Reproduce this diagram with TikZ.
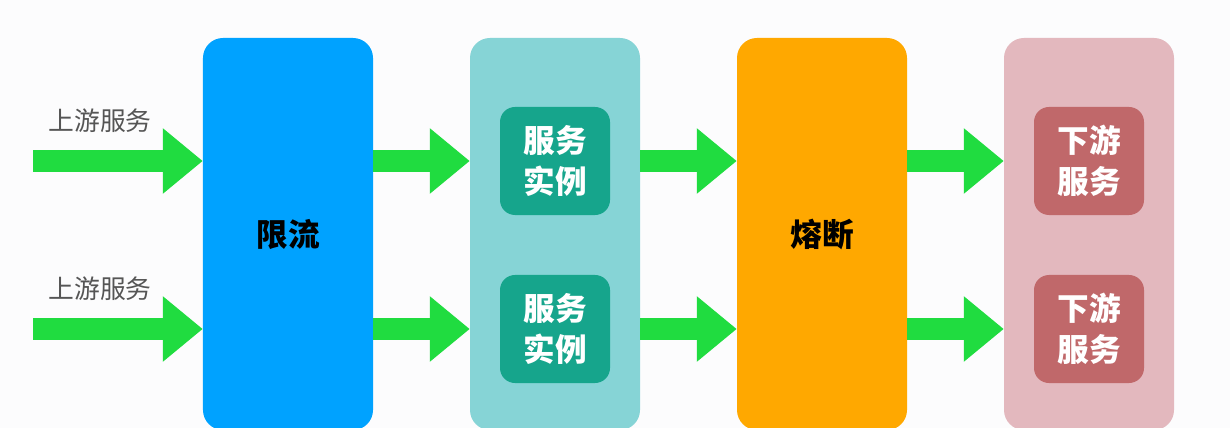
\documentclass[tikz,border=0pt]{standalone}
\usepackage{fontspec}
\setmainfont{Noto Sans CJK SC}
\usetikzlibrary{arrows.meta}
\definecolor{flowgreen}{RGB}{32,220,64}
\definecolor{limitblue}{RGB}{0,162,255}
\definecolor{instlight}{RGB}{134,212,214}
\definecolor{instdark}{RGB}{22,165,140}
\definecolor{fuseorange}{RGB}{255,168,0}
\definecolor{downlight}{RGB}{227,184,190}
\definecolor{downdark}{RGB}{192,104,106}
\definecolor{labelgray}{RGB}{85,85,85}
\definecolor{bgwhite}{RGB}{252,252,253}
\begin{document}
\begin{tikzpicture}[x=0.03cm,y=-0.03cm,
  bigbox/.style={rounded corners=0.6cm,minimum width=5.1cm,minimum height=11.76cm,
    font=\bfseries\fontsize{27}{34}\selectfont},
  smallbox/.style={rounded corners=0.45cm,minimum width=3.3cm,minimum height=3.24cm,
    text=white,align=center,font=\bfseries\fontsize{27}{35}\selectfont},
  fatarrow/.style={line width=0.66cm,flowgreen,-{Triangle[length=1.2cm,width=1.89cm]}},
  uplabel/.style={text=labelgray,font=\fontsize{22}{26}\selectfont}]
  \useasboundingbox[fill=bgwhite] (0,0) rectangle (1230,428);
  \clip (0,0) rectangle (1230,428);
  % columns
  \node[bigbox,fill=limitblue] (limit) at (288,234) {限流};
  \node[bigbox,fill=instlight] (inst) at (555,234) {};
  \node[bigbox,fill=fuseorange] (fuse) at (822,234) {熔断};
  \node[bigbox,fill=downlight] (down) at (1089,234) {};
  \node[smallbox,fill=instdark] (inst1) at (555,161) {服务\\实例};
  \node[smallbox,fill=instdark] (inst2) at (555,329) {服务\\实例};
  \node[smallbox,fill=downdark] (down1) at (1089,161) {下游\\服务};
  \node[smallbox,fill=downdark] (down2) at (1089,329) {下游\\服务};
  % upstream
  \node[uplabel] (up1label) at (100,121) {上游服务};
  \node[uplabel] (up2label) at (100,289) {上游服务};
  \coordinate (up1) at (33,161);
  \coordinate (up2) at (33,329);
  \foreach \r in {1,2} {\draw[fatarrow] (up\r) -- (up\r -| limit.west);}
  \foreach \a/\b in {limit/inst,inst/fuse,fuse/down}
    \foreach \r in {1,2} {\draw[fatarrow] (\a.east |- inst\r) -- (inst\r -| \b.west);}
\end{tikzpicture}
\end{document}
